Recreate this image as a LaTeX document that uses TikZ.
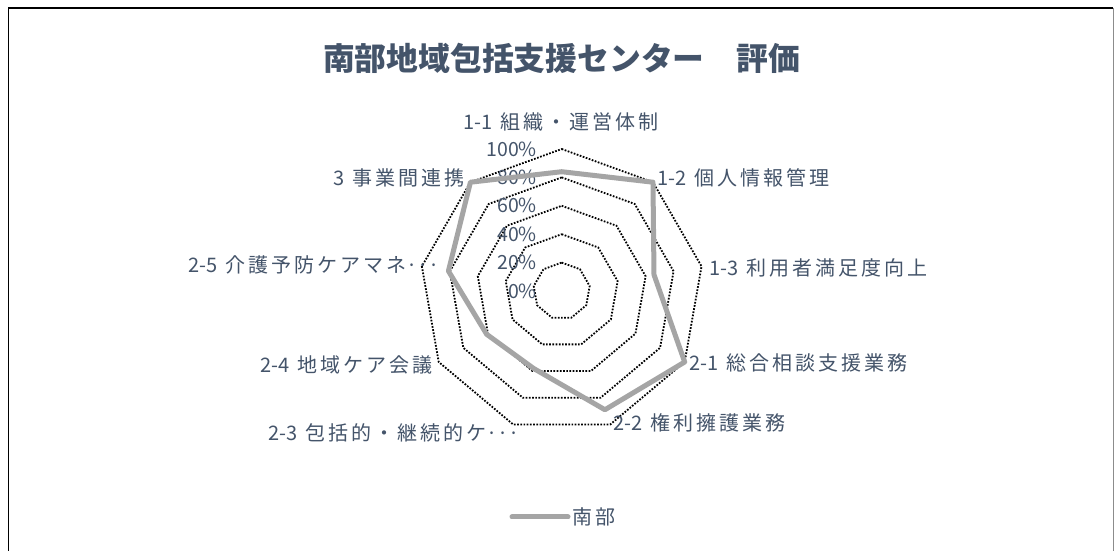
\documentclass[tikz,border=0pt]{standalone}
\usepackage{fontspec}
\setmainfont{Noto Sans CJK JP}
\newfontfamily\lblfont[LetterSpace=15]{Noto Sans CJK JP}
\newfontfamily\pctfont{Noto Sans CJK JP}
\newcommand\latpart[1]{{\pctfont #1}\kern 8pt\relax}
\newcommand\dotsmid{{\pctfont ···}}
\definecolor{txt}{RGB}{68,84,106}
\definecolor{ser}{RGB}{165,165,165}
\begin{document}
\begin{tikzpicture}[x=1pt,y=1pt,
  gridline/.style={black, line width=1.8pt, dash pattern=on 1.7pt off 1.5pt},
  series/.style={ser, line width=5pt, line join=round},
  axlabel/.style={text=txt, font=\lblfont\fontsize{20}{24}\selectfont, inner sep=0pt},
  pctlabel/.style={text=txt, font=\pctfont\fontsize{19.5}{22}\selectfont, inner sep=0pt, anchor=east},
  titlestyle/.style={text=txt, font=\bfseries\fontsize{31.8}{38}\selectfont, inner sep=0pt}]
\useasboundingbox (0,0) rectangle (1114,551);
\fill[white] (0,0) rectangle (1114,551);
% chart frame
\draw[black, line width=1.6pt] (8.3,0) -- (8.3,542.7) -- (1113.3,542.7);
\draw[black!45, line width=1pt] (1113.3,542.7) -- (1113.3,0);
% title
\node[titlestyle] (title) at (561.5,493) {南部地域包括支援センター　評価};
% centre
\coordinate (C) at (561.7,260);
% grid polygons
\foreach \k in {1,...,5}{
  \pgfmathsetmacro{\r}{28.4*\k}
  \draw[gridline, shift={(C)}] (90:\r) \foreach \i in {1,...,8}{ -- ({90-40*\i}:\r) } -- cycle;
}
% percent labels
\foreach \k/\t in {0/0\%,1/20\%,2/40\%,3/60\%,4/80\%,5/100\%}{
  \node[pctlabel] (p\k) at (537,{260+28.4*\k}) {\t};
}
% data series
\draw[series, shift={(C)}] (90:{0.84*142}) -- (50:{1.0*142}) -- (10:{0.66*142}) -- (-30:{1.0*142})
  -- (-70:{0.89*142}) -- (-110:{0.58*142}) -- (-150:{0.61*142}) -- (-190:{0.81*142})
  -- (-230:{1.0*142}) -- cycle;
% axis labels
\node[axlabel] (a11) at (561,429.3) {\latpart{1-1}組織・運営体制};
\node[axlabel, anchor=west] (a12) at (657,373) {\latpart{1-2}個人情報管理};
\node[axlabel, anchor=west] (a13) at (709,283) {\latpart{1-3}利用者満足度向上};
\node[axlabel, anchor=west] (a21) at (689,188) {\latpart{2-1}総合相談支援業務};
\node[axlabel, anchor=west] (a22) at (613,128) {\latpart{2-2}権利擁護業務};
\node[axlabel, anchor=east] (a23) at (520,118) {\latpart{2-3}包括的・継続的ケ\dotsmid};
\node[axlabel, anchor=east] (a24) at (433,186) {\latpart{2-4}地域ケア会議};
\node[axlabel, anchor=east] (a25) at (440,286) {\latpart{2-5}介護予防ケアマネ\dotsmid};
\node[axlabel, anchor=east] (a3) at (465,373) {\latpart{3}事業間連携};
% legend
\coordinate (l1) at (512,34);
\coordinate (l2) at (568,34);
\draw[ser, line width=5pt, line cap=round] (l1) -- (l2);
\node[axlabel, anchor=west] (leg) at (572,34) {南部};
\end{tikzpicture}
\end{document}
